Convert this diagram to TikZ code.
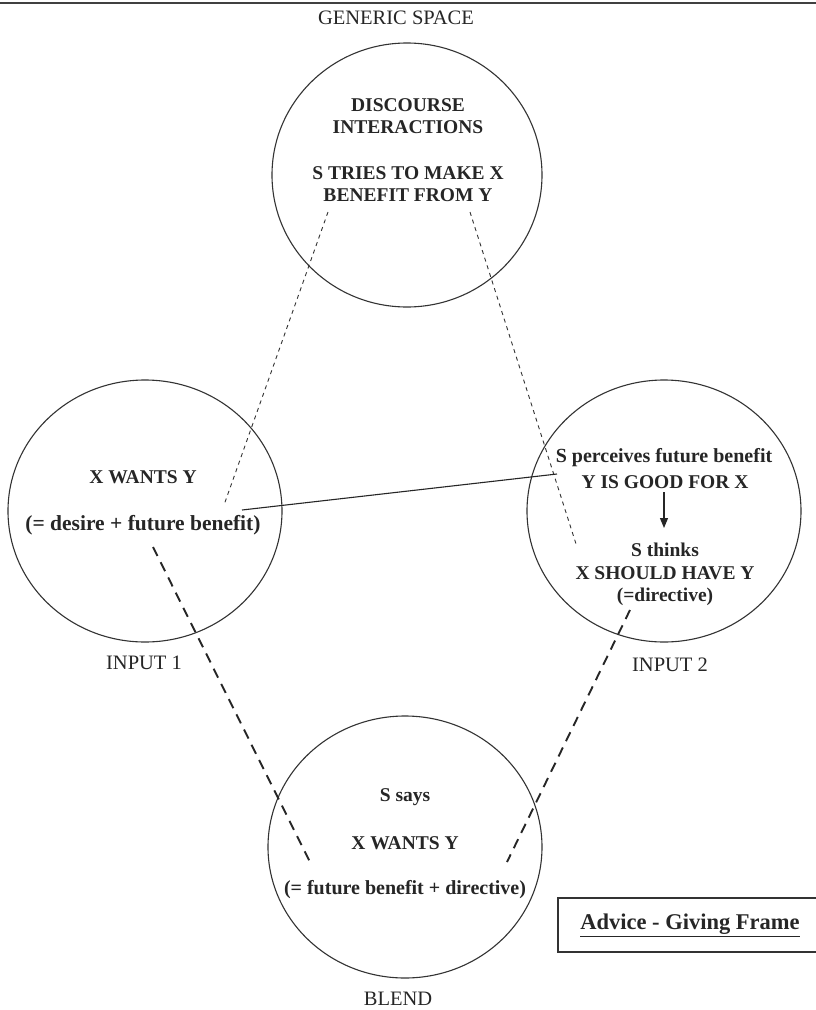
\documentclass[tikz,border=0pt]{standalone}
\usepackage{fontspec}
\setmainfont{Liberation Serif}
\usetikzlibrary{arrows.meta}
\begin{document}
\begin{tikzpicture}[x=1pt,y=-1pt,
  space/.style={draw=black!80, line width=1.1pt},
  lbl/.style={font=\fontsize{20.5}{22}\selectfont, text=black!85, inner sep=0pt},
  txt/.style={font=\bfseries\fontsize{19.5}{22}\selectfont, text=black!85, inner sep=0pt, align=center},
  fine/.style={draw=black!80, line width=0.9pt, dash pattern=on 4pt off 4pt},
  thick dash/.style={draw=black!85, line width=1.9pt, dash pattern=on 10pt off 7pt},
  link/.style={draw=black!85, line width=1.1pt}]
\useasboundingbox (0,0) rectangle (816,1010);
\fill[white] (0,0) rectangle (816,1010);
\draw[black!75, line width=2pt] (0,2.5) -- (816,2.5);

% spaces
\draw[space] (407,175) ellipse [x radius=135, y radius=132];
\draw[space] (145,511) ellipse [x radius=137, y radius=131];
\draw[space] (664,511) ellipse [x radius=137, y radius=131];
\draw[space] (405,847) ellipse [x radius=137, y radius=131];

% labels
\node[lbl] (lgen) at (396,18) {GENERIC SPACE};
\node[lbl] (lin1) at (144,663) {INPUT 1};
\node[lbl] (lin2) at (670,665) {INPUT 2};
\node[lbl] (lbl) at (398,999) {BLEND};

% generic text
\node[txt] (g1) at (408,116) {DISCOURSE\\INTERACTIONS};
\node[txt] (g2) at (408,184) {S TRIES TO MAKE X\\BENEFIT FROM Y};

% input 1
\node[txt] (a1) at (143,477) {X WANTS Y};
\node[txt, font=\bfseries\fontsize{21.5}{22}\selectfont] (a2) at (143,525) {(= desire + future benefit)};

% input 2
\node[txt, font=\bfseries\fontsize{20}{22}\selectfont] (b1) at (664,458) {S perceives future benefit};
\node[txt] (b2) at (665,482) {Y IS GOOD FOR X};
\node[txt] (b3) at (665,550) {S thinks};
\node[txt] (b4) at (665,573) {X SHOULD HAVE Y};
\node[txt] (b5) at (665,597) {(=directive)};
\coordinate (arrS) at (664,492);
\coordinate (arrE) at (664,528);
\draw[link, -{Triangle[length=10pt,width=8pt]}] (arrS) -- (arrE);

% blend
\node[txt] (c1) at (405,797) {S says};
\node[txt] (c2) at (405,843) {X WANTS Y};
\node[txt, font=\bfseries\fontsize{20}{22}\selectfont] (c3) at (405,890) {(= future benefit + directive)};

% connector end points
\coordinate (gL) at (328,212);
\coordinate (iL) at (224,505);
\coordinate (gR) at (470,212);
\coordinate (iR) at (577,547);
\coordinate (sA) at (242,510);
\coordinate (sB) at (557,474);
\coordinate (d1a) at (153,547);
\coordinate (d1b) at (310,862);
\coordinate (d2a) at (630,610);
\coordinate (d2b) at (507,862);

\draw[fine] (gL) -- (iL);
\draw[fine] (gR) -- (iR);
\draw[link] (sA) -- (sB);
\draw[thick dash] (d1a) -- (d1b);
\draw[thick dash] (d2a) -- (d2b);

% frame box
\node[font=\bfseries\fontsize{22.5}{24}\selectfont, text=black!85, inner sep=0pt] (frame) at (690,925) {\underline{Advice - Giving Frame}};
\draw[black!80, line width=1.1pt] (817,898) -- (558,898) -- (558,952) -- (817,952);
\end{tikzpicture}
\end{document}
